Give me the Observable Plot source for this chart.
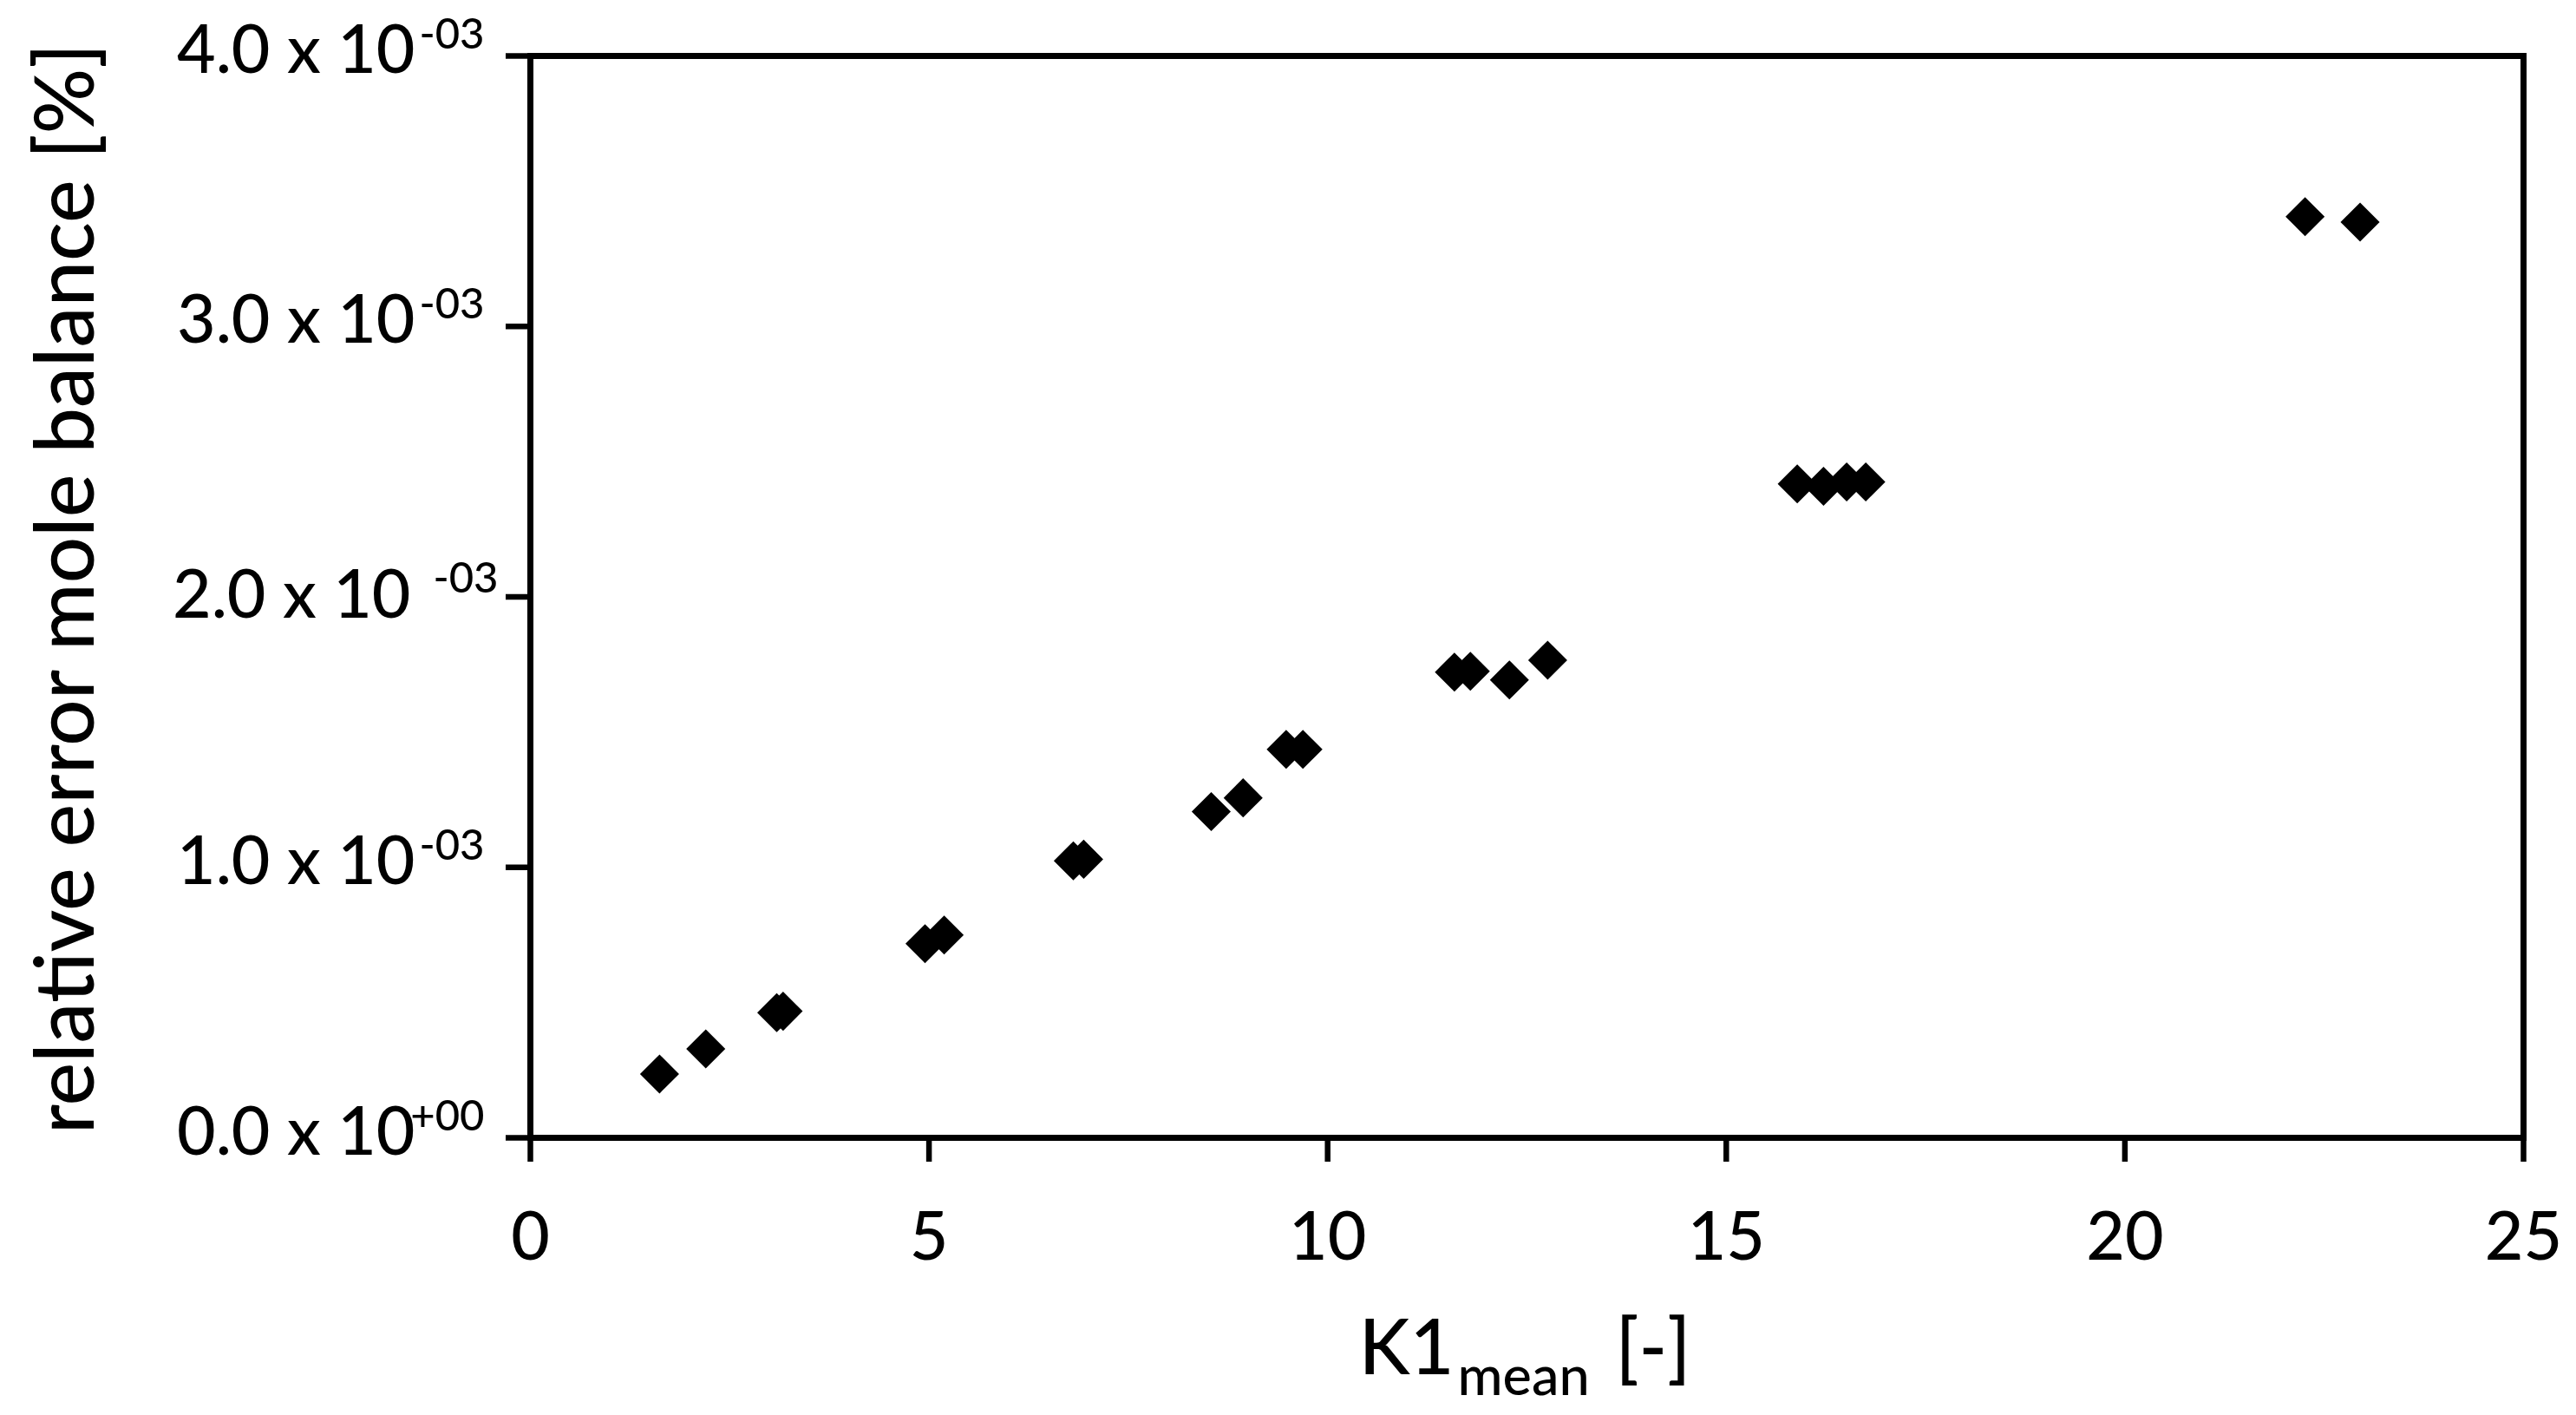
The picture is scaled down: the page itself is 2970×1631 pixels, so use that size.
<!DOCTYPE html>
<html><head><meta charset="utf-8">
<script src="https://cdn.jsdelivr.net/npm/d3@7"></script>
<script src="https://cdn.jsdelivr.net/npm/@observablehq/plot@0.6"></script>
<style>html,body{margin:0;padding:0;background:#fff;}</style>
</head><body><div id="chart"></div>
<script>
// K1_mean [-]
const k1Mean = [1.62, 2.20, 3.09, 3.17, 4.95, 5.19, 6.81, 6.94, 8.54, 8.94, 9.48, 9.69,
                11.59, 11.79, 12.28, 12.76, 15.89, 16.22, 16.51, 16.75, 22.26, 22.95];
// relative error mole balance [%]
const relError = [0.236e-3, 0.329e-3, 0.463e-3, 0.468e-3, 0.718e-3, 0.750e-3, 1.024e-3, 1.030e-3,
                  1.206e-3, 1.257e-3, 1.436e-3, 1.436e-3, 1.722e-3, 1.725e-3, 1.693e-3, 1.766e-3,
                  2.418e-3, 2.409e-3, 2.425e-3, 2.425e-3, 3.406e-3, 3.386e-3];
const xTickValues = [0, 5, 10, 15, 20, 25];
const yTickValues = [0, 1e-3, 2e-3, 3e-3, 4e-3];
const yTickMain = ["0.0 x 10", "1.0 x 10", "2.0 x 10", "3.0 x 10", "4.0 x 10"];
const yTickSup = ["+00", "-03", "-03", "-03", "-03"];
const yTitle = "relative error mole balance [%]";
const xTitleMain = "K1";
const xTitleSub = "mean";
const xTitleUnit = "[-]";

const points = k1Mean.map((x, i) => ({x, y: relError[i]}));
const regIdx = [0, 1, 3, 4];
const oddIdx = [2];
const fw = 500;

const chart = Plot.plot({
  width: 2970,
  height: 1631,
  marginLeft: 611,
  marginRight: 61,
  marginTop: 64,
  marginBottom: 320,
  x: {domain: [0, 25]},
  y: {domain: [0, 4e-3]},
  style: {fontFamily: "Lato", fontSize: "77px", fontWeight: fw, color: "black", background: "white"},
  marks: [
    Plot.axisX({ticks: xTickValues, tickSize: 28, tickPadding: 58, strokeWidth: 6.5, label: null,
                fontSize: 77, fontWeight: fw, tickFormat: d => String(d)}),
    Plot.axisY({ticks: yTickValues, tickSize: 28, strokeWidth: 6.5, label: null, tickFormat: () => ""}),
    Plot.frame({stroke: "black", strokeWidth: 7}),
    Plot.text(regIdx.map(i => yTickMain[i]), {y: regIdx.map(i => yTickValues[i]), text: d => d,
      frameAnchor: "left", textAnchor: "end", lineAnchor: "bottom", dx: -133, dy: 19, fontSize: 77, fontWeight: fw}),
    Plot.text(regIdx.map(i => yTickSup[i]), {y: regIdx.map(i => yTickValues[i]), text: d => d,
      frameAnchor: "left", textAnchor: "end", lineAnchor: "bottom", dx: -53, dy: -9, fontSize: 49, fontWeight: fw}),
    Plot.text(oddIdx.map(i => yTickMain[i]), {y: oddIdx.map(i => yTickValues[i]), text: d => d,
      frameAnchor: "left", textAnchor: "end", lineAnchor: "bottom", dx: -138, dy: 24, fontSize: 77, fontWeight: fw}),
    Plot.text(oddIdx.map(i => yTickSup[i]), {y: oddIdx.map(i => yTickValues[i]), text: d => d,
      frameAnchor: "left", textAnchor: "end", lineAnchor: "bottom", dx: -37, dy: -5, fontSize: 49, fontWeight: fw}),
    Plot.text([yTitle], {frameAnchor: "left", rotate: -90, dx: -504, dy: -9.5,
      lineAnchor: "bottom", textAnchor: "middle", fontSize: 94, fontWeight: fw}),
    Plot.text([xTitleMain], {frameAnchor: "bottom", textAnchor: "end", lineAnchor: "bottom",
      dx: -84, dy: 272, fontSize: 88, fontWeight: fw}),
    Plot.text([xTitleSub], {frameAnchor: "bottom", textAnchor: "start", lineAnchor: "bottom",
      dx: -80, dy: 296, fontSize: 63, fontWeight: fw}),
    Plot.text([xTitleUnit], {frameAnchor: "bottom", textAnchor: "start", lineAnchor: "bottom",
      dx: 102, dy: 272, fontSize: 88, fontWeight: fw}),
    Plot.dot(points, {x: "x", y: "y", symbol: "diamond2", r: 20.3, fill: "black", stroke: "none"})
  ]
});
document.getElementById("chart").appendChild(chart);
</script>
</body></html>
